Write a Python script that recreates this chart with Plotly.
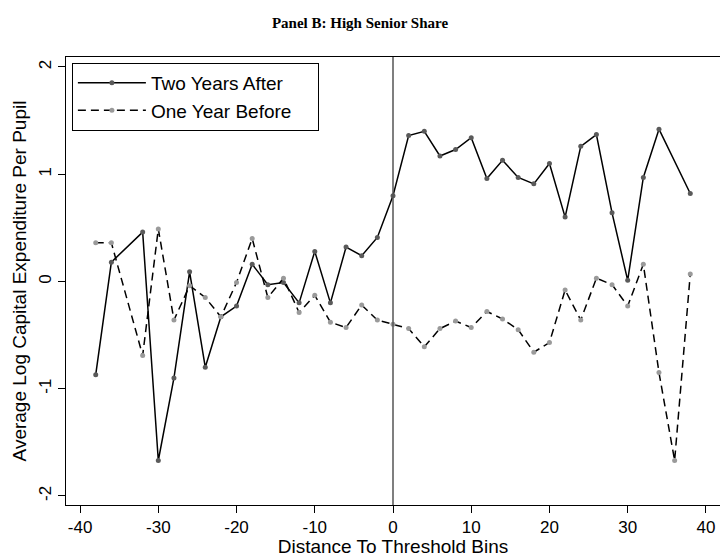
'''
Panel B: High Senior Share - capital expenditure around threshold
'''

import plotly.graph_objects as go

# Data
bins = [-38, -36, -34, -32, -30, -28, -26, -24, -22, -20, -18, -16, -14, -12, -10, -8, -6, -4, -2,
        0, 2, 4, 6, 8, 10, 12, 14, 16, 18, 20, 22, 24, 26, 28, 30, 32, 34, 36, 38]

two_years_after = [-0.87, 0.18, None, 0.46, -1.67, -0.90, 0.09, -0.80, -0.33, -0.23, 0.16, -0.03, -0.01,
                   -0.20, 0.28, -0.20, 0.32, 0.24, 0.41,
                   0.80, 1.36, 1.40, 1.17, 1.23, 1.34, 0.96, 1.13, 0.97, 0.91, 1.10, 0.60, 1.26, 1.37,
                   0.64, 0.01, 0.97, 1.42, None, 0.82]

one_year_before = [0.36, 0.36, None, -0.69, 0.49, -0.36, -0.04, -0.15, -0.33, -0.01, 0.40, -0.15, 0.03,
                   -0.29, -0.13, -0.38, -0.43, -0.22, -0.36,
                   -0.40, -0.44, -0.61, -0.44, -0.37, -0.43, -0.28, -0.35, -0.45, -0.66, -0.57, -0.08,
                   -0.36, 0.03, -0.03, -0.23, 0.16, -0.85, -1.67, 0.07]

x_ticks = [-40, -30, -20, -10, 0, 10, 20, 30, 40]
x_labels = ["-40", "-30", "-20", "-10", "0", "10", "20", "30", "40"]
y_ticks = [-2, -1, 0, 1, 2]
y_labels = ["-2", "-1", "0", "1", "2"]

pad = "\u00a0\u00a0\u00a0\u00a0"  # widen the legend box a little

fig = go.Figure()

fig.add_trace(go.Scatter(
    x = bins, y = two_years_after, name = "Two Years After" + pad,
    mode = "lines+markers", connectgaps = True,
    line = dict(color = "black", width = 1.5),
    marker = dict(color = "#5a5a5a", size = 5)))

fig.add_trace(go.Scatter(
    x = bins, y = one_year_before, name = "One Year Before" + pad,
    mode = "lines+markers", connectgaps = True,
    line = dict(color = "black", width = 1.5, dash = "8px,5px"),
    marker = dict(color = "#9a9a9a", size = 5)))

# vertical line at the threshold
fig.add_vline(x = 0, line_color = "#555555", line_width = 1.5)

tick_font = dict(family = "Liberation Sans, Arial", size = 17, color = "black")
title_font = dict(family = "Liberation Sans, Arial", size = 19, color = "black")

fig.update_layout(
    width = 720, height = 557,
    paper_bgcolor = "white", plot_bgcolor = "white",
    margin = dict(l = 66, r = 0, t = 57, b = 52, autoexpand = False),
    title = dict(text = "<b>Panel B: High Senior Share</b>", x = 0.5, xanchor = "center",
                 y = 0.96, yanchor = "middle",
                 font = dict(family = "Liberation Serif, Times New Roman", size = 15, color = "black")),
    legend = dict(x = 0.009, y = 0.987, xanchor = "left", yanchor = "top",
                  bordercolor = "black", borderwidth = 1, bgcolor = "white",
                  font = dict(family = "Liberation Sans, Arial", size = 19, color = "black"),
                  itemwidth = 68, tracegroupgap = 0),
    font = tick_font,
)

fig.update_xaxes(
    range = [-41.8, 41.8], tickvals = x_ticks, ticktext = x_labels,
    ticks = "outside", ticklen = 7, tickcolor = "black", automargin = False,
    showgrid = False, zeroline = False,
    showline = True, linecolor = "black", linewidth = 1, mirror = True,
    title = dict(text = "Distance To Threshold Bins", standoff = 1, font = title_font),
    tickfont = tick_font)

fig.update_yaxes(
    range = [-2.085, 2.093], tickvals = y_ticks, ticktext = y_labels,
    ticks = "outside", ticklen = 7, tickcolor = "black", automargin = False,
    showgrid = False, zeroline = False, tickangle = -90,
    showline = True, linecolor = "black", linewidth = 1,
    title = dict(text = "Average Log Capital Expenditure Per Pupil", standoff = 4, font = title_font),
    tickfont = tick_font)

fig.write_html("out.html", config = {"displayModeBar": False},
               post_script = "document.body.style.margin = '0';")
